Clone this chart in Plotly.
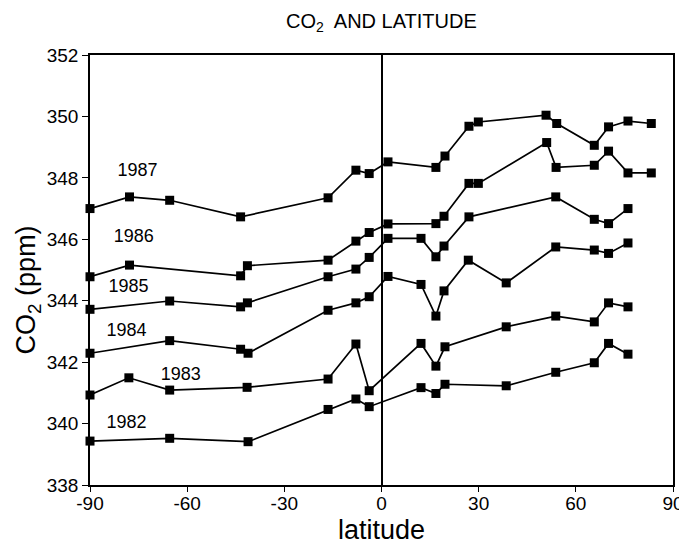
import plotly.graph_objects as go

years = ["1987", "1986", "1985", "1984", "1983", "1982"]

lat_1987 = [-90, -77.8, -65.4, -43.5, -16.5, -7.9, -3.8, 2, 16.8, 19.6, 27, 29.9, 50.8, 54.1, 65.7, 70.1, 76.1, 83.3]
co2_1987 = [347.0, 347.38, 347.27, 346.73, 347.35, 348.25, 348.14, 348.52, 348.34, 348.71, 349.68, 349.82, 350.04, 349.77, 349.06, 349.66, 349.85, 349.77]

lat_1986 = [-90, -77.8, -43.5, -41.4, -16.5, -7.9, -3.8, 2, 16.8, 19.3, 27, 29.9, 51, 53.9, 65.7, 70.1, 76.1, 83.3]
co2_1986 = [344.78, 345.16, 344.81, 345.14, 345.32, 345.94, 346.22, 346.5, 346.51, 346.75, 347.82, 347.82, 349.15, 348.34, 348.41, 348.87, 348.16, 348.16]

lat_1985 = [-90, -65.4, -43.5, -41.4, -16.5, -7.9, -3.8, 2, 12.2, 16.8, 19.3, 27, 53.8, 65.7, 70.1, 76.1]
co2_1985 = [343.72, 343.99, 343.80, 343.93, 344.78, 345.03, 345.41, 346.03, 346.03, 345.43, 345.78, 346.73, 347.38, 346.65, 346.51, 347.0]

lat_1984 = [-90, -65.4, -43.5, -41.2, -16.5, -7.9, -3.8, 2, 12.2, 16.8, 19.3, 26.8, 38.5, 53.8, 65.7, 70.1, 76.1]
co2_1984 = [342.29, 342.70, 342.42, 342.29, 343.69, 343.93, 344.13, 344.79, 344.53, 343.50, 344.32, 345.32, 344.58, 345.75, 345.65, 345.54, 345.88]

lat_1983 = [-90, -78, -65.4, -41.5, -16.5, -7.9, -3.8, 12.2, 16.8, 19.6, 38.5, 53.8, 65.7, 70.1, 76.1]
co2_1983 = [340.93, 341.49, 341.09, 341.18, 341.45, 342.59, 341.07, 342.61, 341.87, 342.50, 343.15, 343.50, 343.31, 343.93, 343.80]

lat_1982 = [-90, -65.4, -41.2, -16.5, -7.9, -3.8, 12.2, 16.8, 19.6, 38.5, 53.8, 65.7, 70.1, 76.1]
co2_1982 = [339.43, 339.52, 339.41, 340.46, 340.80, 340.55, 341.17, 340.98, 341.28, 341.23, 341.67, 341.98, 342.61, 342.26]

label_lat = [-75.3, -76.5, -78.1, -78.7, -62.0, -78.7]
label_co2 = [348.22, 346.07, 344.44, 343.01, 341.58, 340.0]

x_ticks = [-90, -60, -30, 0, 30, 60, 90]
y_ticks = [338, 340, 342, 344, 346, 348, 350, 352]

series = [(lat_1987, co2_1987), (lat_1986, co2_1986), (lat_1985, co2_1985),
          (lat_1984, co2_1984), (lat_1983, co2_1983), (lat_1982, co2_1982)]

FONT = "Liberation Sans, Arial, sans-serif"

fig = go.Figure()
for name, (xs, ys) in zip(years, series):
    fig.add_trace(go.Scatter(
        x=xs, y=ys, mode="lines+markers", name=name,
        line=dict(color="black", width=1.7),
        marker=dict(symbol="square", size=9, color="black"),
        cliponaxis=False, showlegend=False,
    ))

fig.add_trace(go.Scatter(
    x=label_lat, y=label_co2, mode="text", text=years,
    textfont=dict(family=FONT, size=18, color="black"),
    showlegend=False, hoverinfo="skip",
))

# the page body adds an 8px offset, so the figure is sized to fit inside the window
fig.update_layout(
    width=679, height=540,
    margin=dict(l=82, r=14, t=47, b=63),
    paper_bgcolor="white", plot_bgcolor="white",
    font=dict(family=FONT, color="black"),
    xaxis=dict(range=[-90, 90], tickvals=x_ticks, ticktext=[str(v) for v in x_ticks],
               showgrid=False, zeroline=True, zerolinecolor="black", zerolinewidth=1.6,
               showline=True, linecolor="black", linewidth=1.6, mirror=True,
               ticks="outside", ticklen=5, tickcolor="black", tickwidth=1.2,
               ticklabelstandoff=-5,
               tickfont=dict(family=FONT, size=19, color="black"), automargin=False),
    yaxis=dict(range=[338, 352], tickvals=y_ticks, ticktext=[str(v) for v in y_ticks],
               showgrid=False, zeroline=False,
               showline=True, linecolor="black", linewidth=1.6, mirror=True,
               ticks="outside", ticklen=6, tickcolor="black", tickwidth=1.2,
               tickfont=dict(family=FONT, size=19, color="black"), automargin=False),
    annotations=[
        dict(text="CO<sub>2</sub>  AND LATITUDE", xref="paper", yref="paper", x=0.5, y=1.075,
             xanchor="center", yanchor="middle", showarrow=False,
             font=dict(family=FONT, size=20, color="black")),
        dict(text="latitude", xref="paper", yref="paper", x=0.5, y=-0.104,
             xanchor="center", yanchor="middle", showarrow=False,
             font=dict(family=FONT, size=27, color="black")),
        dict(text="CO<sub>2</sub> (ppm)", xref="paper", yref="paper", x=-0.106, y=0.453,
             xanchor="center", yanchor="middle", showarrow=False, textangle=-90,
             font=dict(family=FONT, size=27, color="black")),
    ],
)

fig.write_html("out.html")
